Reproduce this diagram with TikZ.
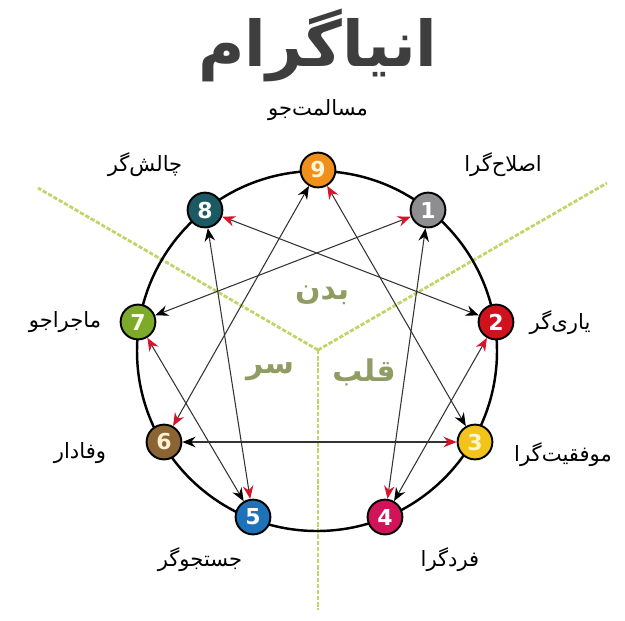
\documentclass[tikz,border=0pt]{standalone}
\usepackage{fontspec}
\usepackage{tikz}
\usetikzlibrary{arrows.meta}
\TeXXeTstate=1
\newfontfamily\farsifont[Script=Arabic]{DejaVu Sans}
\newfontfamily\digitfont{DejaVu Sans}
\definecolor{titlegray}{HTML}{3E3E3E}
\definecolor{linkgray}{HTML}{333333}
\definecolor{tipred}{HTML}{D6142A}
\definecolor{wordolive}{HTML}{8F9C62}
\definecolor{dashgreen}{HTML}{C2D46A}
\definecolor{nineorange}{HTML}{F0901C}
\definecolor{onegray}{HTML}{8E8E90}
\definecolor{twored}{HTML}{D0121E}
\definecolor{threeyellow}{HTML}{F2C318}
\definecolor{fourpink}{HTML}{D1145A}
\definecolor{fiveblue}{HTML}{1E72B8}
\definecolor{sixbrown}{HTML}{8B6434}
\definecolor{sevengreen}{HTML}{7DAA2A}
\definecolor{eightteal}{HTML}{1C5A63}

\begin{document}
\begin{tikzpicture}[x=0.02cm, y=-0.02cm,
    typenode/.style={circle, draw=black, line width=1.1pt, minimum size=19.8pt, inner sep=0pt,
        text=white, font=\digitfont\bfseries\fontsize{12.5}{12.5}\selectfont},
    link/.style={draw=linkgray, line width=0.6pt,
        {Stealth[length=7.5pt,width=6pt,inset=2.5pt,color=black]}-{Stealth[length=7.5pt,width=6pt,inset=2.5pt,color=tipred]}},
    typelabel/.style={font=\farsifont\fontsize{12}{14}\selectfont},
    centerword/.style={text=wordolive, font=\farsifont\bfseries\fontsize{17}{20}\selectfont},
    divider/.style={draw=dashgreen, line width=1.6pt, dash pattern=on 2.5pt off 1pt}]
    %% The page is 625 by 620 and y runs downwards, so the numbers below are just pixel positions.
    \useasboundingbox (0,0) rectangle (625,620);
    %% The three dashed arms split the figure into body, heart and head.
        \coordinate (hub) at (318,350);
        \coordinate (armleft) at (38,188);
        \coordinate (armright) at (607,183);
        \coordinate (armdown) at (318,610);
        \draw[divider] (hub) -- (armleft);
        \draw[divider] (hub) -- (armright);
        \draw[divider] (hub) -- (armdown);
    %% The big ring, drawn before the numbered discs so that they sit on top of it.
        \draw[line width=1.4pt] (317,351) circle (180);
    %% The nine discs.
        \node[typenode, fill=nineorange, text={rgb,255:red,255;green,246;blue,214}] (n9) at (318,170) {9};
        \node[typenode, fill=onegray] (n1) at (428,210) {1};
        \node[typenode, fill=twored] (n2) at (496,322) {2};
        \node[typenode, fill=threeyellow, text={rgb,255:red,255;green,246;blue,200}] (n3) at (475,442) {3};
        \node[typenode, fill=fourpink] (n4) at (385,517) {4};
        \node[typenode, fill=fiveblue] (n5) at (253,517) {5};
        \node[typenode, fill=sixbrown, text={rgb,255:red,255;green,240;blue,210}] (n6) at (164,442) {6};
        \node[typenode, fill=sevengreen, text={rgb,255:red,250;green,255;blue,225}] (n7) at (138,322) {7};
        \node[typenode, fill=eightteal] (n8) at (205,210) {8};
    %% Inner lines: the black head points one way and the red head the other.
        \draw[link] (n7) -- (n1);
        \draw[link] (n5) -- (n7);
        \draw[link] (n8) -- (n5);
        \draw[link] (n2) -- (n8);
        \draw[link] (n4) -- (n2);
        \draw[link] (n1) -- (n4);
        \draw[link] (n3) -- (n9);
        \draw[link] (n6) -- (n3);
        \draw[link] (n9) -- (n6);
    %% Title and the names of the types.
        \node[text=titlegray, font=\farsifont\bfseries\fontsize{36}{40}\selectfont] (title) at (318,45) {\beginR انیاگرام\endR};
        \node[typelabel] (lab9) at (318,110) {\beginR مسالمت‌جو\endR};
        \node[typelabel] (lab1) at (503,165) {\beginR اصلاح‌گرا\endR};
        \node[typelabel] (lab2) at (560,323) {\beginR یاری‌گر\endR};
        \node[typelabel] (lab3) at (563,455) {\beginR موفقیت‌گرا\endR};
        \node[typelabel] (lab4) at (450,560) {\beginR فردگرا\endR};
        \node[typelabel] (lab5) at (200,560) {\beginR جستجوگر\endR};
        \node[typelabel] (lab6) at (80,453) {\beginR وفادار\endR};
        \node[typelabel] (lab7) at (65,322) {\beginR ماجراجو\endR};
        \node[typelabel] (lab8) at (145,165) {\beginR چالش‌گر\endR};
    %% The three centres.
        \node[centerword] (body) at (322,295) {\beginR بدن\endR};
        \node[centerword] (heart) at (364,372) {\beginR قلب\endR};
        \node[centerword] (head) at (270,372) {\beginR سر\endR};
\end{tikzpicture}
\end{document}
